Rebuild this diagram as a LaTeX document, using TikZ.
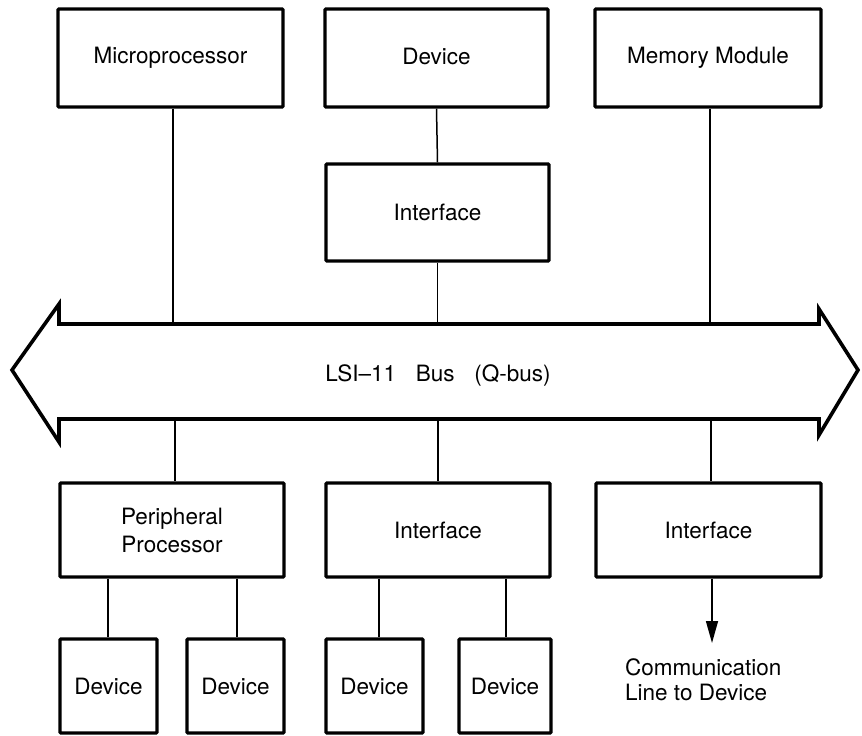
\documentclass[tikz,border=0pt]{standalone}
\usepackage{fontspec}
\setmainfont{TeX Gyre Heros}
\usetikzlibrary{arrows.meta}
\begin{document}
\begin{tikzpicture}[x=1pt,y=-1pt,
  box/.style={draw,line width=3.3pt,rounded corners=1pt,inner sep=0pt,align=center,font=\fontsize{22.5}{28}\selectfont},
  conn/.style={line width=1.5pt},
  lbl/.style={font=\fontsize{22.5}{25}\selectfont}]
\useasboundingbox (0,0) rectangle (862,736);
% top row
\node[box,minimum width=225pt,minimum height=98pt] (micro) at (170.5,58) {\raisebox{3pt}{Microprocessor}};
\node[box,minimum width=223pt,minimum height=98pt] (devtop) at (436.5,58) {\raisebox{3pt}{Device}};
\node[box,minimum width=226pt,minimum height=98pt] (mem) at (708,58) {\raisebox{3pt}{Memory Module}};
\node[box,minimum width=223pt,minimum height=97pt] (iftop) at (437.5,212.5) {Interface};
% bus
\coordinate (bustop) at (0,324);
\coordinate (busbot) at (0,419);
\draw[line width=3.6pt,line join=miter] (12,370) -- (59,304) -- (59,324) -- (819,324) -- (819,309) -- (858,370) -- (819,435) -- (819,419) -- (59,419) -- (59,442) -- cycle;
\node[lbl] (buslbl) at (438,375) {LSI--11\hspace{0.6em} Bus\hspace{0.6em} (Q-bus)};
% bottom row
\node[box,minimum width=224pt,minimum height=94pt] (periph) at (172,530) {Peripheral\\Processor};
\node[box,minimum width=224pt,minimum height=94pt] (ifmid) at (438,530) {Interface};
\node[box,minimum width=225pt,minimum height=94pt] (ifright) at (708.5,530) {Interface};
\node[box,minimum width=97pt,minimum height=94pt] (d1) at (108.5,686) {Device};
\node[box,minimum width=97pt,minimum height=94pt] (d2) at (235.5,686) {Device};
\node[box,minimum width=97pt,minimum height=94pt] (d3) at (374.5,686) {Device};
\node[box,minimum width=92pt,minimum height=94pt] (d4) at (505,686) {Device};
% connectors
\draw[conn] (173,0 |- micro.south) -- (173,324);
\draw[conn] (devtop.south) -- (iftop.north);
\draw[conn] (iftop.south) -- (iftop.south |- bustop);
\draw[conn] (710,0 |- mem.south) -- (710,324);
\draw[conn] (175,419) -- (175,0 |- periph.north);
\draw[conn] (ifmid.north |- busbot) -- (ifmid.north);
\draw[conn] (711,419) -- (711,0 |- ifright.north);
\draw[conn] (108,0 |- periph.south) -- (108,0 |- d1.north);
\draw[conn] (237,0 |- periph.south) -- (237,0 |- d2.north);
\draw[conn] (379,0 |- ifmid.south) -- (379,0 |- d3.north);
\draw[conn] (506,0 |- ifmid.south) -- (506,0 |- d4.north);
\coordinate (commend) at (712,643);
\draw[conn,-{Triangle[length=22pt,width=12pt]}] (712,0 |- ifright.south) -- (commend);
\node[lbl,anchor=north west,align=left,inner sep=0pt] (commlbl) at (625,658) {Communication\\Line to Device};
\end{tikzpicture}
\end{document}
